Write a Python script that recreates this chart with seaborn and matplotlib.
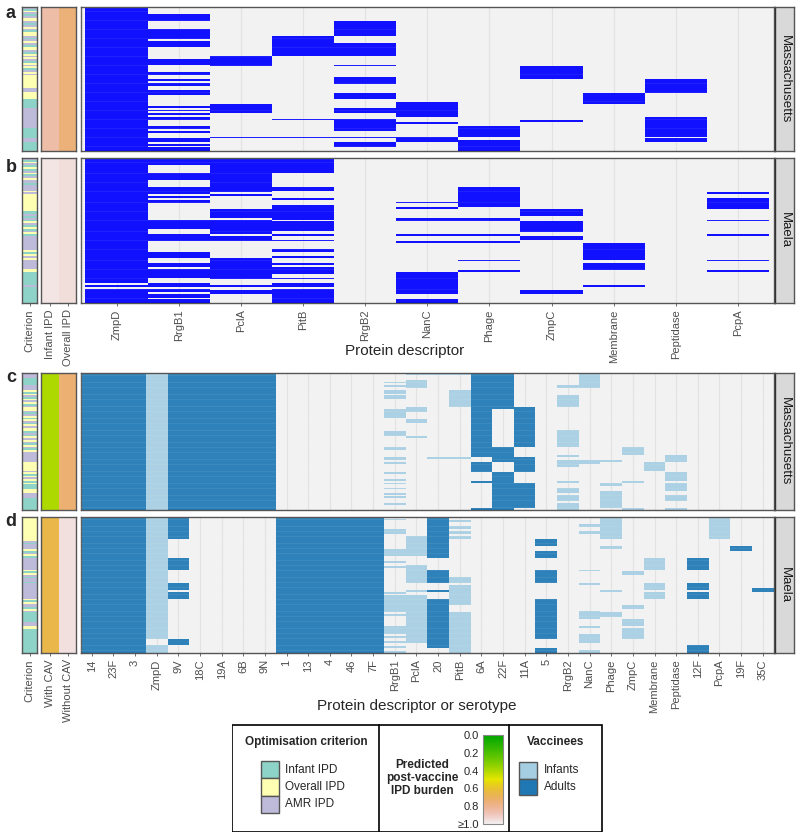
import colorsys
import numpy as np
import pandas as pd
import seaborn as sns
import matplotlib
matplotlib.use("Agg")
import matplotlib.pyplot as plt
from matplotlib.colors import ListedColormap, Normalize
from matplotlib.patches import Rectangle
import matplotlib.cm as cm

W, H = 800, 839
N_ROWS = 80

# ---- data (row spans) ----
AB_COLS = ["ZmpD", "RrgB1", "PclA", "PitB", "RrgB2", "NanC", "Phage",
           "ZmpC", "Membrane", "Peptidase", "PcpA"]
CD_COLS = ["14", "23F", "3", "ZmpD", "9V", "18C", "19A", "6B", "9N", "1", "13",
           "4", "46", "7F", "RrgB1", "PclA", "20", "PitB", "6A", "22F", "11A",
           "5", "RrgB2", "NanC", "Phage", "ZmpC", "Membrane", "Peptidase",
           "12F", "PcpA", "19F", "35C"]

# panel a - Massachusetts, protein only
a_spans = {
    "ZmpD": [(0, 80)],
    "RrgB1": [(4, 8), (12, 18), (19, 22), (29, 32), (36, 38), (40, 41), (42, 44),
              (46, 49), (55, 56), (57, 58), (59, 60), (61, 63), (66, 68), (69, 70),
              (73, 75), (76, 77), (78, 80)],
    "PclA": [(27, 33), (54, 59), (72, 73)],
    "PitB": [(16, 27), (62, 63), (72, 73)],
    "RrgB2": [(8, 16), (20, 27), (32, 33), (39, 43), (48, 51), (56, 59), (62, 69),
              (72, 73), (75, 78)],
    "NanC": [(53, 61), (64, 65), (72, 75)],
    "Phage": [(66, 72), (74, 80)],
    "ZmpC": [(33, 40), (63, 64)],
    "Membrane": [(48, 54)],
    "Peptidase": [(40, 48), (61, 72), (73, 75)],
}

# panel b - Maela, protein only
b_spans = {
    "ZmpD": [(0, 69), (70, 71), (72, 80)],
    "RrgB1": [(0, 4), (8, 12), (16, 20), (21, 22), (23, 25), (34, 39), (42, 46),
              (52, 55), (58, 60), (61, 66), (69, 71), (72, 74), (75, 77), (78, 80)],
    "PclA": [(0, 19), (20, 21), (28, 33), (34, 42), (43, 46), (55, 67), (70, 71),
             (73, 75)],
    "PitB": [(0, 8), (16, 18), (22, 23), (26, 34), (35, 40), (42, 43), (45, 46),
             (50, 52), (54, 55), (58, 59), (60, 64), (66, 67), (69, 71), (72, 80)],
    "NanC": [(24, 25), (27, 28), (33, 35), (42, 43), (46, 47), (63, 75), (78, 80)],
    "Phage": [(16, 27), (33, 35), (42, 43), (46, 47), (56, 57), (62, 63)],
    "ZmpC": [(28, 32), (35, 41), (43, 45), (73, 75)],
    "Membrane": [(47, 56), (58, 62), (70, 71)],
    "PcpA": [(19, 20), (22, 28), (34, 35), (42, 43), (56, 57), (62, 63)],
}

# panel c - Massachusetts, proteins and serotypes
c_adults = {
    "14": [(0, 80)], "23F": [(0, 80)], "3": [(0, 80)], "9V": [(0, 80)],
    "18C": [(0, 80)], "19A": [(0, 80)], "6B": [(0, 80)], "9N": [(0, 80)],
    "6A": [(0, 49), (52, 58), (63, 64), (79, 80)],
    "22F": [(0, 21), (43, 52), (58, 80)],
    "11A": [(20, 43), (49, 58), (64, 79)],
}
c_infants = {
    "ZmpD": [(0, 80)],
    "RrgB1": [(5, 6), (7, 8), (10, 12), (13, 15), (21, 26), (34, 37), (43, 45),
              (49, 51), (52, 53), (58, 59), (62, 63), (64, 65), (67, 68), (70, 71),
              (72, 73), (76, 77)],
    "PclA": [(0, 1), (4, 9), (20, 23), (27, 29), (37, 38)],
    "20": [(0, 1), (49, 50)],
    "PitB": [(0, 1), (10, 20), (49, 50)],
    "RrgB2": [(7, 9), (13, 20), (33, 43), (48, 49), (51, 55), (63, 64), (67, 70),
              (71, 75), (76, 80)],
    "NanC": [(0, 9), (51, 53)],
    "Phage": [(51, 52), (64, 66), (69, 79)],
    "ZmpC": [(43, 48), (63, 64), (79, 80)],
    "Membrane": [(52, 57)],
    "Peptidase": [(48, 52), (58, 63), (64, 69), (71, 75), (79, 80)],
}

# panel d - Maela, proteins and serotypes
d_adults = {
    "14": [(0, 80)], "23F": [(0, 80)], "3": [(0, 80)], "1": [(0, 80)],
    "13": [(0, 80)], "4": [(0, 80)], "46": [(0, 80)], "7F": [(0, 80)],
    "9V": [(0, 13), (24, 31), (39, 43), (44, 48), (72, 75)],
    "20": [(0, 24), (31, 39), (43, 44), (48, 77)],
    "5": [(13, 17), (20, 24), (31, 39), (48, 72), (77, 80)],
    "12F": [(24, 31), (39, 43), (44, 48), (75, 80)],
    "19F": [(17, 20)],
    "35C": [(42, 44)],
}
d_infants = {
    "ZmpD": [(0, 72), (75, 80)],
    "RrgB1": [(1, 2), (7, 10), (19, 23), (26, 27), (29, 30), (44, 45), (46, 56),
              (57, 58), (64, 69), (70, 71), (73, 74), (76, 77), (79, 80)],
    "PclA": [(11, 23), (28, 39), (43, 44), (46, 74)],
    "PitB": [(2, 3), (5, 7), (8, 10), (11, 13), (35, 39), (40, 52), (56, 80)],
    "NanC": [(4, 6), (8, 10), (31, 32), (39, 40), (55, 60), (64, 65), (69, 74),
             (78, 80)],
    "Phage": [(0, 13), (17, 19), (43, 44), (56, 59)],
    "ZmpC": [(32, 34), (52, 54), (60, 64), (65, 72)],
    "Membrane": [(24, 31), (39, 43), (44, 48)],
    "PcpA": [(0, 13)],
}

# optimisation criterion per row: I = infant IPD, O = overall IPD, A = AMR IPD
a_crit = ("AIOAIAOOAIAOAIOOAIAOAIOOAIOAOAIOAOIAOA" + "O" * 7 + "AA" + "OOOO"
          + "I" * 5 + "A" * 11 + "I" * 6 + "AA" + "I" * 5)
b_crit = ("AIOAIOIAOIAO" + "AAIAAA" + "OAO" + "O" * 8 + "IIAI" + "AIOAIOIAOIA"
          + "A" * 7 + "OIOAO" + "A" * 5 + "OO" + "I" * 7 + "A" + "I" * 9)
c_crit = ("AAA" + "IIII" + "AAA" + "OIOAIOAOIAOOAIAOIOAIOAOOIAIOAOAIOAIO"
          + "A" * 6 + "O" * 4 + "OAOIOAOIO" + "III" + "OO" + "AAA" + "I" * 7)
d_crit = ("O" * 14 + "AIAAA" + "OIAOI" + "A" * 7 + "OIO" + "AIAAIA" + "A" * 8
          + "OIOA" + "AIOA" + "I" * 6 + "AAO" + "OI" + "I" * 13)

# predicted post-vaccine IPD burden (two strip columns per panel)
a_burden = [0.85, 0.75]
b_burden = [0.97, 0.95]
c_burden = [0.40, 0.74]
d_burden = [0.66, 0.96]

CRIT_CODES = {"I": 0, "O": 1, "A": 2}
CRIT_LABELS = ["Infant IPD", "Overall IPD", "AMR IPD"]
CRIT_COLORS = ["#8DD3C7", "#FFFFB3", "#BEBADA"]
VAC_LABELS = ["Infants", "Adults"]
VAC_COLORS = ["#A6CEE3", "#1F78B4"]


def terrain_cmap(n=256):
    # same ramp as R's terrain.colors
    k = n // 2
    cols = []
    for i in range(k):
        t = i / (k - 1)
        cols.append(colorsys.hsv_to_rgb(4 / 12 - t * 2 / 12, 1.0, 0.65 + 0.25 * t))
    for i in range(n - k):
        t = (i + 1) / (n - k)
        cols.append(colorsys.hsv_to_rgb(2 / 12 * (1 - t), 1 - t, 0.9 + 0.05 * t))
    return ListedColormap(cols)


TERRAIN = terrain_cmap()

sns.set_theme(style="white")
plt.rcParams["font.family"] = ["Liberation Sans", "DejaVu Sans"]

fig = plt.figure(figsize=(W / 100, H / 100), dpi=100)


def px_axes(x0, y0, x1, y1):
    return fig.add_axes([x0 / W, 1 - y1 / H, (x1 - x0) / W, (y1 - y0) / H])


def build(cols, layers):
    m = np.zeros((N_ROWS, len(cols)))
    for value, spans in layers:
        for name, segs in spans.items():
            j = cols.index(name)
            for s, e in segs:
                m[s:e, j] = value
    return pd.DataFrame(m, columns=cols)


def frame(ax):
    for sp in ax.spines.values():
        sp.set_visible(True)
        sp.set_color("#555555")
        sp.set_linewidth(1.0)


def style_x(ax, labels, show):
    n = len(labels)
    ax.set_xticks(np.arange(n) + 0.5)
    ax.set_xticklabels(labels if show else [], rotation=90)
    ax.tick_params(axis="x", length=2.5 if show else 0, width=0.5,
                   color="#333333", labelsize=8, labelcolor="#4D4D4D", pad=2,
                   bottom=True)
    ax.set_yticks([])
    ax.set_xlabel("")
    ax.set_ylabel("")


def draw_panel(y0, y1, df, colors, crit, burden, burden_labels, show,
               strip_text, pad):
    # criterion strip
    ax_c = px_axes(22, y0, 37, y1)
    cdf = pd.DataFrame({"Criterion": [CRIT_CODES[c] for c in crit]})
    sns.heatmap(cdf, ax=ax_c, cmap=ListedColormap(CRIT_COLORS), vmin=-0.5,
                vmax=2.5, cbar=False, xticklabels=False, yticklabels=False)
    style_x(ax_c, ["Criterion"], show)
    frame(ax_c)

    # burden strip
    ax_b = px_axes(41, y0, 76.5, y1)
    bdf = pd.DataFrame({burden_labels[0]: [burden[0]] * N_ROWS,
                        burden_labels[1]: [burden[1]] * N_ROWS})
    sns.heatmap(bdf, ax=ax_b, cmap=TERRAIN, vmin=0, vmax=1, cbar=False,
                xticklabels=False, yticklabels=False)
    style_x(ax_b, burden_labels, show)
    frame(ax_b)

    # main heatmap: empty cells are transparent so the grey panel shows
    ax = px_axes(80.5, y0, 774, y1)
    ncol = df.shape[1]
    ax.set_facecolor("#F2F2F2")
    cmap = ListedColormap([(0, 0, 0, 0)] + colors)
    sns.heatmap(df, ax=ax, cmap=cmap, vmin=-0.5, vmax=len(colors) + 0.5,
                cbar=False, xticklabels=False, yticklabels=False)
    for i in range(ncol):
        ax.axvline(i + 0.5, color="#E0E0E0", lw=0.9, zorder=0.5)
    for r in range(1, N_ROWS):
        ax.axhline(r, color="white", lw=0.3, alpha=0.35, zorder=3)
    ax.set_xlim(-pad, ncol + pad)
    ax.set_ylim(N_ROWS, 0)
    style_x(ax, list(df.columns), show)
    frame(ax)

    # facet strip
    ax_s = px_axes(775, y0, 794, y1)
    ax_s.set_facecolor("#D9D9D9")
    ax_s.set_xticks([])
    ax_s.set_yticks([])
    frame(ax_s)
    ax_s.spines["left"].set_color("#333333")
    ax_s.text(0.5, 0.5, strip_text, rotation=270, ha="center", va="center",
              fontsize=9.5, color="#1A1A1A", transform=ax_s.transAxes)


df_a = build(AB_COLS, [(1, a_spans)])
df_b = build(AB_COLS, [(1, b_spans)])
df_c = build(CD_COLS, [(1, c_infants), (2, c_adults)])
df_d = build(CD_COLS, [(1, d_infants), (2, d_adults)])

draw_panel(7, 151, df_a, ["#0000FF"], a_crit, a_burden,
           ["Infant IPD", "Overall IPD"], False, "Massachusetts", 0.08)
draw_panel(158, 303, df_b, ["#0000FF"], b_crit, b_burden,
           ["Infant IPD", "Overall IPD"], True, "Maela", 0.08)
draw_panel(373, 510, df_c, VAC_COLORS, c_crit, c_burden,
           ["With CAV", "Without CAV"], False, "Massachusetts", 0.02)
draw_panel(517, 653, df_d, VAC_COLORS, d_crit, d_burden,
           ["With CAV", "Without CAV"], True, "Maela", 0.02)

for letter, (x, y) in zip("abcd", [(11, 14), (11, 167), (11, 378), (11, 521)]):
    fig.text(x / W, 1 - y / H, letter, fontsize=13, fontweight="bold",
             ha="center", va="center")

fig.text(405 / W, 1 - 351 / H, "Protein descriptor", fontsize=11,
         ha="center", va="center")
fig.text(417 / W, 1 - 706 / H, "Protein descriptor or serotype", fontsize=11,
         ha="center", va="center")

# ---- legend box ----
lg = px_axes(232, 724, 603, 832)
lg.set_xlim(232, 603)
lg.set_ylim(832, 724)
lg.axis("off")
lg.add_patch(Rectangle((232.5, 724.5), 370, 107, fill=False, ec="black", lw=1.2))
for xd in (379, 509):
    lg.plot([xd, xd], [724.5, 831.5], color="black", lw=1.2)

lg.text(306, 742, "Optimisation criterion", fontsize=8.5, fontweight="bold",
        ha="center", va="center")
for i, (lab, col) in enumerate(zip(CRIT_LABELS, CRIT_COLORS)):
    ytop = 761 + i * 17.3
    lg.add_patch(Rectangle((261, ytop), 18, 17.3, fc=col, ec="#555555", lw=1))
    lg.text(285, ytop + 8.7, lab, fontsize=8.5, ha="left", va="center")

lg.text(422, 778, "Predicted\npost-vaccine\nIPD burden", fontsize=8.5,
        fontweight="bold", ha="center", va="center", linespacing=1.15)

lg.text(556, 742, "Vaccinees", fontsize=8.5, fontweight="bold",
        ha="center", va="center")
for i, (lab, col) in enumerate(zip(VAC_LABELS, VAC_COLORS)):
    ytop = 762 + i * 16.5
    lg.add_patch(Rectangle((519, ytop), 18, 16.5, fc=col, ec="#555555", lw=1))
    lg.text(544, ytop + 8.2, lab, fontsize=8.5, ha="left", va="center")

cax = px_axes(483, 735, 503, 824)
cb = fig.colorbar(cm.ScalarMappable(norm=Normalize(0, 1), cmap=TERRAIN), cax=cax)
cb.outline.set_edgecolor("#888888")
cb.outline.set_linewidth(0.8)
cax.invert_yaxis()
cb.set_ticks([0, 0.2, 0.4, 0.6, 0.8, 1.0])
cb.set_ticklabels(["0.0", "0.2", "0.4", "0.6", "0.8", "\u22651.0"])
cax.yaxis.set_ticks_position("both")
cax.tick_params(axis="y", direction="in", length=3, width=0.5, color="#666666",
                labelleft=True, labelright=False, labelsize=8, pad=3)

fig.savefig("out.png", dpi=100)
